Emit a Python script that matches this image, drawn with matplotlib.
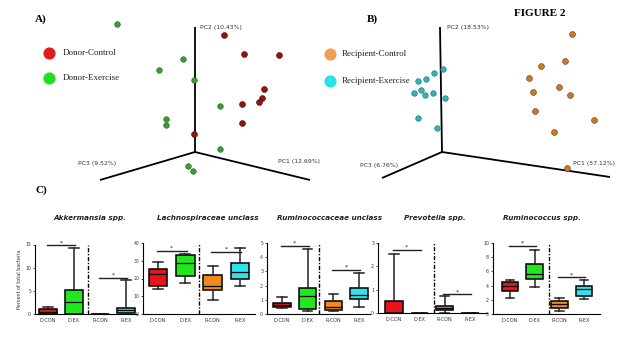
import matplotlib
matplotlib.use("Agg")
import matplotlib.pyplot as plt

W, H = 640, 338

# ---------------- PCA data (projected coordinates, pixel space of panel) ----------
donor_control_x = [224, 244, 279, 264, 262, 259, 242, 242, 194]
donor_control_y = [35, 54, 55, 89, 98, 102, 104, 123, 134]
donor_exercise_x = [117, 183, 159, 194, 220, 166, 166, 220, 188, 193]
donor_exercise_y = [24, 59, 70, 80, 106, 119, 125, 149, 166, 171]

recip_control_x = [572, 565, 541, 529, 559, 533, 570, 535, 594, 554, 567]
recip_control_y = [34, 61, 66, 78, 87, 92, 95, 111, 120, 132, 168]
recip_exercise_x = [443, 434, 426, 418, 421, 414, 425, 433, 445, 418, 437]
recip_exercise_y = [69, 73, 79, 81, 90, 93, 95, 93, 98, 118, 128]

# ---------------- Box plot data ----------------
groups = ["D-CON", "D-EX", "R-CON", "R-EX"]
titles = ["Akkermansia spp.", "Lachnospiraceae unclass", "Ruminococcaceae unclass",
          "Prevotella spp.", "Ruminococcus spp."]
# each: (min, q1, median, q3, max) per group
akk = [(0, 0, 0.5, 1.0, 1.5), (0, 0.05, 2.5, 5.2, 14.2), (0, 0, 0, 0.05, 0.05), (0, 0.2, 0.8, 1.2, 7.3)]
lach = [(14, 15.5, 22.5, 25.5, 29.5), (17.5, 21.5, 29, 33, 34), (8, 13.5, 16, 22, 27), (15.5, 19.5, 23.5, 28.5, 37)]
rumc = [(0.4, 0.5, 0.65, 0.8, 1.2), (0.2, 0.35, 1.3, 1.8, 4.6), (0.2, 0.3, 0.5, 0.9, 1.4), (0.5, 1.05, 1.35, 1.8, 2.9)]
prev = [(0, 0, 0, 0.5, 2.55), (0, 0, 0, 0.01, 0.01), (0, 0.15, 0.22, 0.32, 0.72), (0, 0, 0, 0.01, 0.01)]
rumi = [(2.25, 3.3, 3.95, 4.55, 4.8), (3.75, 5.0, 5.6, 7.0, 9.0), (0.4, 0.9, 1.4, 1.8, 2.2), (2.1, 2.6, 3.5, 4.0, 4.75)]
box_data = [akk, lach, rumc, prev, rumi]
ymax = [15, 40, 5, 3, 10]
yticks = [[0, 5, 10, 15], [0, 10, 20, 30, 40], [0, 1, 2, 3, 4, 5], [0, 1, 2, 3], [0, 2, 4, 6, 8, 10]]
sig_donor = [14.8, 35.5, 4.8, 2.7, 9.6]
sig_recip = [7.8, 35.0, 3.1, 0.8, 5.2]

box_colors = ["#e8141c", "#22e61e", "#f2891e", "#30e2ea"]

fig = plt.figure(figsize=(W / 100, H / 100), dpi=100)
fig.patch.set_facecolor("white")

# ---------------- PCA panels ----------------
ax = fig.add_axes([0, 0, 1, 1])
ax.set_xlim(0, W)
ax.set_ylim(H, 0)
ax.axis("off")

# axes of 3D plot (origin, PC2 top, PC1 end, PC3 end)
pcaA = dict(o=(195, 152), pc2=(195, 27), pc1=(310, 180), pc3=(100, 180))
pcaB = dict(o=(442, 152), pc2=(440, 27), pc1=(610, 177), pc3=(382, 178))
for p in (pcaA, pcaB):
    for k in ("pc2", "pc1", "pc3"):
        ax.plot([p["o"][0], p[k][0]], [p["o"][1], p[k][1]], color="black", lw=1.3,
                solid_capstyle="butt")

ax.scatter(donor_control_x, donor_control_y, s=18, color="#8e1515", edgecolors="#4a0808",
           linewidths=0.4, zorder=3)
ax.scatter(donor_exercise_x, donor_exercise_y, s=16, color="#3c9c36", edgecolors="#1f5a1c",
           linewidths=0.4, zorder=3)
ax.scatter(recip_control_x, recip_control_y, s=18, color="#c77a2c", edgecolors="#6b3e10",
           linewidths=0.4, zorder=3)
ax.scatter(recip_exercise_x, recip_exercise_y, s=16, color="#2fb6b4", edgecolors="#13706e",
           linewidths=0.4, zorder=3)

pc_kw = dict(fontsize=4.4, color="#333333", family="DejaVu Sans")
ax.text(200, 27, "PC2 (10.43%)", ha="left", va="center", **pc_kw)
ax.text(278, 162, "PC1 (12.69%)", ha="left", va="center", **pc_kw)
ax.text(78, 164, "PC3 (9.52%)", ha="left", va="center", **pc_kw)
ax.text(447, 28, "PC2 (18.53%)", ha="left", va="center", **pc_kw)
ax.text(573, 164, "PC1 (57.12%)", ha="left", va="center", **pc_kw)
ax.text(360, 166, "PC3 (6.76%)", ha="left", va="center", **pc_kw)

# legends
serif = "Liberation Serif"
ax.scatter([49], [53], s=60, color="#e01e1e", marker="o")
ax.scatter([49], [78], s=60, color="#1ee01e", marker="o")
ax.text(63, 53, "Donor-Control", fontsize=6.5, family=serif, va="center", color="#222222")
ax.text(63, 78, "Donor-Exercise", fontsize=6.5, family=serif, va="center", color="#222222")
ax.scatter([330], [54], s=60, color="#f0a050", marker="o")
ax.scatter([330], [81], s=60, color="#28e4ea", marker="o")
ax.text(342, 54, "Recipient-Control", fontsize=6.5, family=serif, va="center", color="#222222")
ax.text(342, 81, "Recipient-Exercise", fontsize=6.5, family=serif, va="center", color="#222222")

ax.text(35, 19, "A)", fontsize=8, family=serif, fontweight="bold", va="center")
ax.text(367, 19, "B)", fontsize=8, family=serif, fontweight="bold", va="center")
ax.text(540, 14, "FIGURE 2", fontsize=8, family=serif, fontweight="bold", va="center", ha="center")
ax.text(35, 190, "C)", fontsize=8, family=serif, fontweight="bold", va="center")

# ---------------- Box plot panels ----------------
# pixel boxes: left, right, top, bottom; category pixel positions
panels = [
    dict(l=35, r=137, t=244.5, b=314, cx=(48, 126), dash=88, tx=90),
    dict(l=143, r=255, t=243, b=314, cx=(158, 240), dash=199, tx=208),
    dict(l=267, r=370, t=243, b=314, cx=(282, 359), dash=319, tx=330),
    dict(l=378, r=487, t=243, b=313, cx=(394, 470), dash=434, tx=435),
    dict(l=493, r=600, t=243, b=314, cx=(510, 584), dash=549, tx=542),
]

for i, p in enumerate(panels):
    bax = fig.add_axes([p["l"] / W, 1 - p["b"] / H, (p["r"] - p["l"]) / W, (p["b"] - p["t"]) / H])
    upx = (p["cx"][1] - p["cx"][0]) / 3.0
    x0 = 1 - (p["cx"][0] - p["l"]) / upx
    x1 = 4 + (p["r"] - p["cx"][1]) / upx
    bax.set_xlim(x0, x1)
    bax.set_ylim(0, ymax[i])
    stats = []
    for g, (mn, q1, med, q3, mx) in zip(groups, box_data[i]):
        stats.append(dict(label=g, whislo=mn, q1=q1, med=med, q3=q3, whishi=mx, fliers=[]))
    bp = bax.bxp(stats, positions=[1, 2, 3, 4], widths=0.68, patch_artist=True,
                 showfliers=False,
                 boxprops=dict(linewidth=1.1, edgecolor="black"),
                 medianprops=dict(color="black", linewidth=0.9),
                 whiskerprops=dict(color="#222222", linewidth=1.1),
                 capprops=dict(color="#222222", linewidth=1.1),
                 capwidths=0.36)
    for patch, c in zip(bp["boxes"], box_colors):
        patch.set_facecolor(c)
    dash_x = 1 + (p["dash"] - p["cx"][0]) / upx
    bax.plot([dash_x, dash_x], [0, ymax[i]], color="black", lw=1.0, ls=(0, (3, 1.2, 1, 1.2)),
             clip_on=False)
    # significance bars
    for (a, b_, yv) in ((1, 2, sig_donor[i]), (3, 4, sig_recip[i])):
        bax.plot([a - 0.05, b_ + 0.05], [yv, yv], color="#222222", lw=1.0, clip_on=False)
        bax.text((a + b_) / 2, yv, "*", ha="center", va="bottom", fontsize=4.5, color="#222222")
    for s in ("top", "right"):
        bax.spines[s].set_visible(False)
    for s in ("left", "bottom"):
        bax.spines[s].set_linewidth(0.8)
    bax.set_yticks(yticks[i])
    bax.tick_params(axis="y", labelsize=3.3, length=1.8, width=0.6, pad=1, colors="#333333")
    bax.tick_params(axis="x", labelsize=3.5, length=0, pad=3, colors="#333333")
    bax.patch.set_alpha(0)
    ax.text(p["tx"], 218, titles[i], ha="center", va="center", fontsize=5.2,
            fontweight="bold", style="italic", family="DejaVu Sans", color="#222222")
    if i == 0:
        bax.set_ylabel("Percent of total bacteria", fontsize=3.5, labelpad=2, color="#333333")

fig.savefig("out.png", dpi=100, facecolor="white")
